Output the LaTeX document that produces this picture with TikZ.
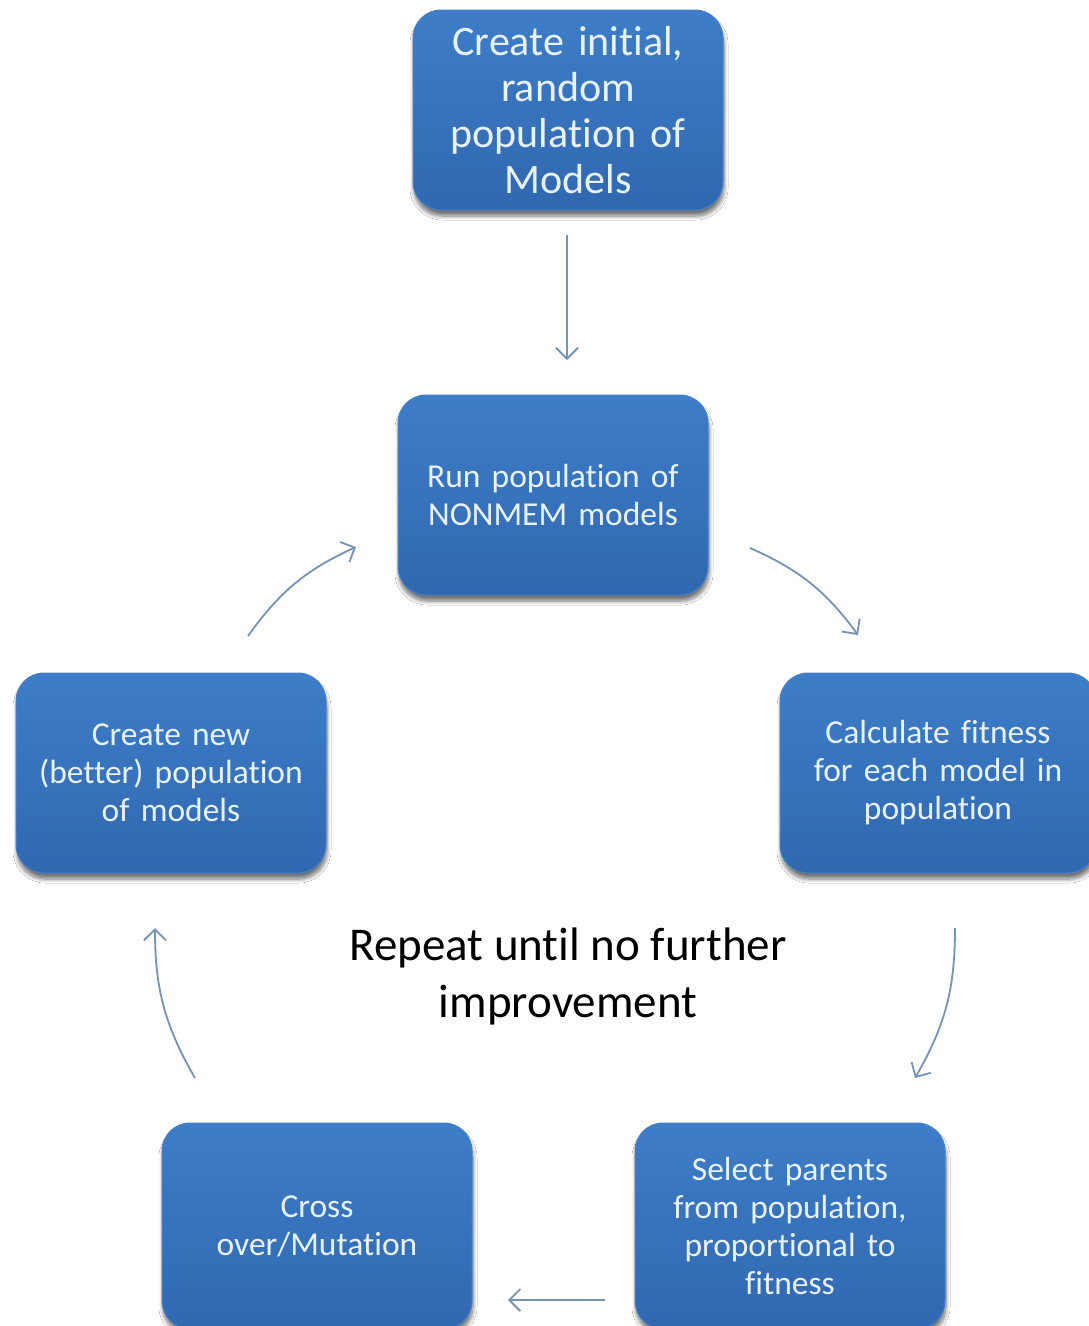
\documentclass[tikz,border=0pt]{standalone}
\usepackage{fontspec}
\setmainfont[Ligatures=NoCommon]{Carlito}
\usetikzlibrary{arrows.meta,shadows.blur}

\definecolor{boxblue}{RGB}{62,125,200}
\definecolor{boxbluedark}{RGB}{48,104,176}
\definecolor{boxedge}{RGB}{70,128,196}
\definecolor{boxtext}{RGB}{232,242,252}
\definecolor{arrowgray}{RGB}{118,146,182}

\tikzset{
  gabox/.style={
    rounded corners=28pt,
    top color=boxblue, bottom color=boxbluedark,
    draw=boxedge, line width=1pt,
    minimum width=310pt, minimum height=200pt,
    text width=296pt, align=center, text=boxtext,
    font=\fontsize{33.5}{38}\selectfont,
    blur shadow={shadow xshift=1pt, shadow yshift=-6pt,
                 shadow blur steps=8, shadow blur radius=4pt,
                 shadow opacity=55}
  },
  flow/.style={
    draw=arrowgray, line width=1.8pt,
    -{Straight Barb[length=11pt,width=22pt,line width=1.8pt]}
  }
}

\begin{document}
\begin{tikzpicture}[x=1pt,y=-1pt]
  \useasboundingbox (0,0) rectangle (1089,1326);
  \clip (0,0) rectangle (1089,1326);
  \fill[white] (0,0) rectangle (1089,1326);

  % process steps
  \node[gabox, font=\fontsize{42}{46}\selectfont] (init) at (568,110)
    {Create initial,\\ random\\ population of\\ Models};
  \node[gabox] (run) at (553,495) {Run population of\\ NONMEM models};
  \node[gabox, minimum width=316pt] (fit) at (938,773)
    {Calculate fitness\\ for each model in\\ population};
  \node[gabox] (new) at (171,773)
    {Create new\\ (better) population\\ of models};
  \node[gabox, minimum height=206pt] (sel) at (790,1226)
    {Select parents\\ from population,\\ proportional to\\ fitness};
  \node[gabox, minimum height=206pt] (cross) at (317,1226)
    {Cross\\ over/Mutation};

  % loop caption
  \node[font=\fontsize{47}{57}\selectfont, align=center] (repeat) at (568,976)
    {Repeat until no further\\ improvement};

  % arrow end points
  \coordinate (a1s) at (567,235);   \coordinate (a1e) at (567,360);
  \coordinate (a2s) at (750,548);   \coordinate (a2e) at (858,635);
  \coordinate (a3s) at (955,928);   \coordinate (a3e) at (915,1078);
  \coordinate (a4s) at (605,1300);  \coordinate (a4e) at (508,1300);
  \coordinate (a5s) at (195,1078);  \coordinate (a5e) at (155,928);
  \coordinate (a6s) at (248,636);   \coordinate (a6e) at (356,547);

  \draw[flow] (a1s) -- (a1e);
  \draw[flow] (a2s) to[bend left=15] (a2e);
  \draw[flow] (a3s) to[bend left=15] (a3e);
  \draw[flow] (a4s) -- (a4e);
  \draw[flow] (a5s) to[bend left=15] (a5e);
  \draw[flow] (a6s) to[bend left=15] (a6e);
\end{tikzpicture}
\end{document}
